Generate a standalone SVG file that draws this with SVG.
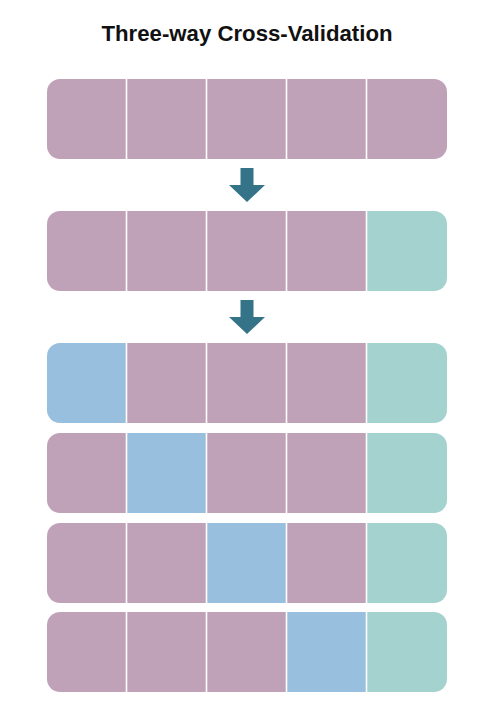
<svg xmlns="http://www.w3.org/2000/svg" width="486" height="719" viewBox="0 0 486 719">
<style>
.p{fill:#bfa2b8}
.t{fill:#a3d2cf}
.b{fill:#99bfde}
.d{stroke:#ffffff;stroke-width:1.6}
.arr{fill:#357389}
.title{font-family:"Liberation Sans",Arial,sans-serif;font-weight:bold;font-size:22px;fill:#111111}
</style>
<defs>
<clipPath id="rc"><rect x="47" y="0" width="400" height="80" rx="13" ry="13"/></clipPath>
<g id="div">
<line class="d" x1="126.5" y1="0" x2="126.5" y2="80"/>
<line class="d" x1="206.5" y1="0" x2="206.5" y2="80"/>
<line class="d" x1="286.5" y1="0" x2="286.5" y2="80"/>
<line class="d" x1="366.5" y1="0" x2="366.5" y2="80"/>
</g>
</defs>
<rect width="486" height="719" fill="#ffffff"/>
<text class="title" x="247" y="41" text-anchor="middle" textLength="291" lengthAdjust="spacingAndGlyphs">Three-way Cross-Validation</text>

<g id="row1" transform="translate(0,79)">
<g clip-path="url(#rc)">
<rect class="p" x="47" y="0" width="400" height="80"/>
</g>
<use href="#div"/>
</g>

<g id="row2" transform="translate(0,211)">
<g clip-path="url(#rc)">
<rect class="p" x="47" y="0" width="320" height="80"/>
<rect class="t" x="367" y="0" width="80" height="80"/>
</g>
<use href="#div"/>
</g>

<g id="row3" transform="translate(0,343)">
<g clip-path="url(#rc)">
<rect class="b" x="47" y="0" width="80" height="80"/>
<rect class="p" x="127" y="0" width="240" height="80"/>
<rect class="t" x="367" y="0" width="80" height="80"/>
</g>
<use href="#div"/>
</g>

<g id="row4" transform="translate(0,433)">
<g clip-path="url(#rc)">
<rect class="p" x="47" y="0" width="80" height="80"/>
<rect class="b" x="127" y="0" width="80" height="80"/>
<rect class="p" x="207" y="0" width="160" height="80"/>
<rect class="t" x="367" y="0" width="80" height="80"/>
</g>
<use href="#div"/>
</g>

<g id="row5" transform="translate(0,523)">
<g clip-path="url(#rc)">
<rect class="p" x="47" y="0" width="160" height="80"/>
<rect class="b" x="207" y="0" width="80" height="80"/>
<rect class="p" x="287" y="0" width="80" height="80"/>
<rect class="t" x="367" y="0" width="80" height="80"/>
</g>
<use href="#div"/>
</g>

<g id="row6" transform="translate(0,612)">
<g clip-path="url(#rc)">
<rect class="p" x="47" y="0" width="240" height="80"/>
<rect class="b" x="287" y="0" width="80" height="80"/>
<rect class="t" x="367" y="0" width="80" height="80"/>
</g>
<use href="#div"/>
</g>

<g id="connectors">
<polygon class="arr" points="240.5,168 253.5,168 253.5,185 265,185 247,202 229,185 240.5,185"/>
<polygon class="arr" points="240.5,300 253.5,300 253.5,317 265,317 247,334 229,317 240.5,317"/>
</g>
</svg>
